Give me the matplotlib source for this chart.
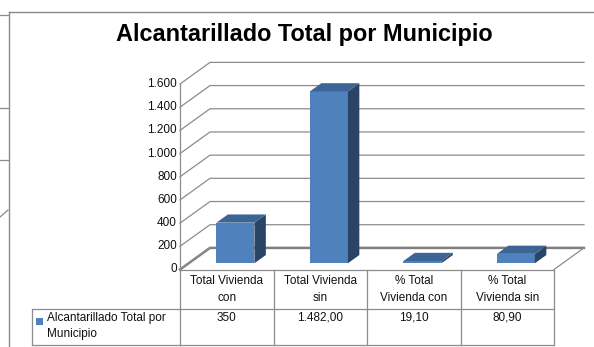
import matplotlib.pyplot as plt
import matplotlib.transforms as mtransforms
from matplotlib.patches import Polygon, Rectangle

plt.rcParams['font.family'] = ['Liberation Sans', 'DejaVu Sans']

title = "Alcantarillado Total por Municipio"
series_name = "Alcantarillado Total por\nMunicipio"
categories = ["Total Vivienda\ncon", "Total Vivienda\nsin", "% Total\nVivienda con", "% Total\nVivienda sin"]
values = [350, 1482.00, 19.10, 80.90]
yticks = [0, 200, 400, 600, 800, 1000, 1200, 1400, 1600]

FRONT = "#4f81bd"
TOP = "#3c6595"
SIDE = "#2a4465"
GRID = "#8c8c8c"
FRAME = "#8a8a8a"


def es_num(v, dec=None):
    # Spanish style: dot for thousands, comma for decimals
    if dec is None:
        s = f"{v:,.0f}"
    else:
        s = f"{v:,.{dec}f}"
    return s.replace(",", "#").replace(".", ",").replace("#", ".")


fig = plt.figure(figsize=(5.94, 3.47), dpi=100)
fig.patch.set_facecolor("white")

# chart axes: x in category units, y in value units
ax = fig.add_axes([0, 0, 1, 1])
cat_px = 93.5
val_per_px = 8.625
ax.set_xlim(-180 / cat_px, (594 - 180) / cat_px)
ax.set_ylim(-(347 - 269.5) * val_per_px, 269.5 * val_per_px)
ax.axis("off")

# pixel overlay for frame, title and table rows
px = fig.add_axes([0, 0, 1, 1], facecolor="none")
px.set_xlim(0, 594)
px.set_ylim(347, 0)
px.axis("off")

cat_x_px_y = mtransforms.blended_transform_factory(ax.transData, px.transData)
px_x_val_y = mtransforms.blended_transform_factory(px.transData, ax.transData)

n = len(categories)
ddx = 30 / cat_px        # depth offset of back wall
ddy = 21.6 * val_per_px

# back wall gridlines
for v in yticks:
    lw = 1.8 if v == 0 else 0.9
    col = "#7f7f7f" if v == 0 else GRID
    ax.plot([0, ddx, n + ddx], [v, v + ddy, v + ddy], color=col, lw=lw, zorder=1)
    ax.text(177, v, es_num(v), transform=px_x_val_y, ha="right", va="center",
            fontsize=8.5, color="#111111")
ax.plot([0, ddx], [0, ddy], color=GRID, lw=0.9, zorder=1)
ax.plot([0, 0], [0, yticks[-1]], color=GRID, lw=0.9, zorder=1)
ax.plot([n, n + ddx], [0, ddy], color=GRID, lw=0.9, zorder=1)
ax.plot([0, n], [0, 0], color=GRID, lw=0.9, zorder=1)

# 3d-looking columns
f1, f2 = 0.29, 0.67
bw = 0.406
for i, v in enumerate(values):
    x0 = i + 0.5 - bw / 2 + f1 * ddx
    y0 = f1 * ddy
    sx = (f2 - f1) * ddx
    sy = (f2 - f1) * ddy
    ax.add_patch(Rectangle((x0, y0), bw, v, facecolor=FRONT, edgecolor="none", zorder=3))
    ax.add_patch(Polygon([(x0 + bw, y0), (x0 + bw + sx, y0 + sy),
                          (x0 + bw + sx, y0 + sy + v), (x0 + bw, y0 + v)],
                         closed=True, facecolor=SIDE, edgecolor="none", zorder=3))
    ax.add_patch(Polygon([(x0, y0 + v), (x0 + sx, y0 + sy + v),
                          (x0 + bw + sx, y0 + sy + v), (x0 + bw, y0 + v)],
                         closed=True, facecolor=TOP, edgecolor="none", zorder=3))

# data table under the plot
row_top, row_mid, row_bot = 270, 309, 345
for i in range(n + 1):
    ax.plot([i, i], [row_top, row_bot], transform=cat_x_px_y, color=GRID, lw=0.9)
for yy in (row_mid, row_bot):
    px.plot([32, 180], [yy, yy], color=GRID, lw=0.9)
    ax.plot([0, n], [yy, yy], transform=cat_x_px_y, color=GRID, lw=0.9)
px.plot([32, 32], [row_mid, row_bot], color=GRID, lw=0.9)

for i, (c, v) in enumerate(zip(categories, values)):
    ax.text(i + 0.5, 289.5, c, transform=cat_x_px_y, ha="center", va="center",
            fontsize=8.5, linespacing=1.45, color="#111111")
    label = es_num(v) if isinstance(v, int) else es_num(v, 2)
    ax.text(i + 0.5, 312, label, transform=cat_x_px_y, ha="center", va="top",
            fontsize=8.5, color="#111111")

px.add_patch(Rectangle((36, 318), 6.5, 6.5, facecolor=FRONT, edgecolor="none"))
px.text(47, 312, series_name, ha="left", va="top", fontsize=8.5,
        linespacing=1.4, color="#111111")

# chart frame and the edge of the chart behind it
px.plot([9.3, 9.3], [11.5, 347], color=FRAME, lw=1.0)
px.plot([9.3, 594], [11.5, 11.5], color=FRAME, lw=1.0)
for yy in (15, 108, 160):
    px.plot([0, 8], [yy, yy], color=FRAME, lw=0.9)
px.plot([0, 8], [217, 210], color=FRAME, lw=0.9)

px.text(304, 41, title, ha="center", va="baseline", fontsize=16.9,
        fontweight="bold", color="black")

fig.savefig("out.png", dpi=100, facecolor="white")
